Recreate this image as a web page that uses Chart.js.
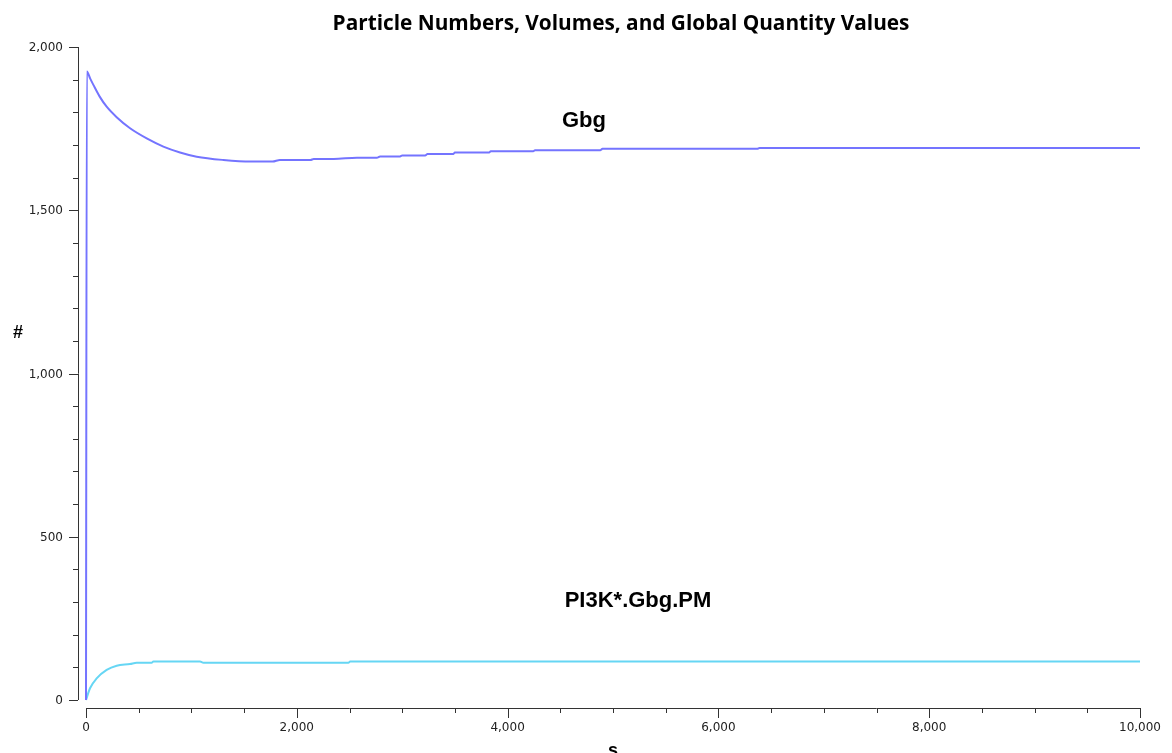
<!DOCTYPE html>
<html lang="en">
<head>
  <meta charset="UTF-8">
  <title>Particle Numbers, Volumes, and Global Quantity Values</title>
  <script src="https://cdn.jsdelivr.net/npm/chart.js"></script>
  <style>
    body { margin: 0; background: #fff; }
    canvas { display: block; }
  </style>
</head>
<body>
  <canvas id="chart" width="1172" height="753"></canvas>

  <script>
    // values (time in s, count in #)
    const gbgTime = [0, 8, 40, 70, 130, 196, 291, 418, 576, 734, 892, 1050, 1303, 1560, 1770, 1840, 2130, 2160, 2350, 2570, 2760, 2790, 2980, 3000, 3218, 3240, 3484, 3500, 3825, 3840, 4243, 4260, 4879, 4900, 6369, 6390, 10000];
    const gbgCount = [0, 1925, 1903, 1884, 1848, 1817, 1785, 1751, 1720, 1695, 1677, 1664, 1654, 1649, 1649, 1654, 1654, 1657, 1657, 1661, 1661, 1665, 1665, 1668, 1668, 1672, 1672, 1677, 1677, 1681, 1681, 1684, 1684, 1688, 1688, 1691, 1691];

    const pi3kTime = [0, 38, 101, 196, 291, 418, 481, 623, 639, 1082, 1114, 2490, 2506, 10000];
    const pi3kCount = [0, 36, 66, 92, 105, 110, 114, 114, 118, 118, 114, 114, 118, 118];

    const xTicks = [0, 2000, 4000, 6000, 8000, 10000];
    const yTicks = [0, 500, 1000, 1500, 2000];

    const toPoints = (xs, ys) => xs.map((x, i) => ({ x, y: ys[i] }));
    const fmt = v => v.toLocaleString('en-US');

    // axes are drawn detached from the plot area, like the original
    const axesPlugin = {
      id: 'detachedAxes',
      afterDraw(chart) {
        const ctx = chart.ctx;
        const xs = chart.scales.x, ys = chart.scales.y;
        const axisX = xs.left - 8;
        const axisY = ys.bottom + 8;
        ctx.save();
        ctx.strokeStyle = '#333';
        ctx.lineWidth = 1;
        ctx.beginPath();
        ctx.moveTo(axisX + 0.5, ys.top);
        ctx.lineTo(axisX + 0.5, ys.bottom);
        ctx.moveTo(xs.left, axisY + 0.5);
        ctx.lineTo(xs.right, axisY + 0.5);
        for (let v = 0; v <= 2000; v += 100) {
          const p = Math.round(ys.getPixelForValue(v)) + 0.5;
          const len = v % 500 === 0 ? 9 : 5;
          ctx.moveTo(axisX - len, p);
          ctx.lineTo(axisX, p);
        }
        for (let v = 0; v <= 10000; v += 500) {
          const p = Math.round(xs.getPixelForValue(v)) + 0.5;
          const len = v % 2000 === 0 ? 10 : 5;
          ctx.moveTo(p, axisY);
          ctx.lineTo(p, axisY + len);
        }
        ctx.stroke();

        ctx.fillStyle = '#222';
        ctx.font = '12px "DejaVu Sans"';
        ctx.textBaseline = 'middle';
        ctx.textAlign = 'right';
        yTicks.forEach(v => ctx.fillText(fmt(v), axisX - 15, ys.getPixelForValue(v) + 1));
        ctx.textAlign = 'center';
        xTicks.forEach(v => ctx.fillText(fmt(v), xs.getPixelForValue(v), axisY + 20));

        ctx.fillStyle = '#000';
        ctx.font = 'bold 20.8px "Open Sans"';
        ctx.textBaseline = 'alphabetic';
        ctx.fillText('Particle Numbers, Volumes, and Global Quantity Values', 621, 30);

        ctx.font = 'bold 18px "Liberation Sans"';
        ctx.fillText('#', 18, 338);
        ctx.fillText('s', 613, 756);

        ctx.font = 'bold 22px "Liberation Sans"';
        ctx.fillText('Gbg', 584, 127);
        ctx.fillText('PI3K*.Gbg.PM', 638, 607);
        ctx.restore();
      }
    };

    new Chart(document.getElementById('chart'), {
      type: 'line',
      data: {
        datasets: [
          {
            label: 'Gbg',
            data: toPoints(gbgTime, gbgCount),
            borderColor: '#7474ff',
            borderWidth: 2,
            pointRadius: 0,
            clip: 4,
            cubicInterpolationMode: 'monotone'
          },
          {
            label: 'PI3K*.Gbg.PM',
            data: toPoints(pi3kTime, pi3kCount),
            borderColor: '#66d6f4',
            borderWidth: 2,
            pointRadius: 0,
            clip: 4,
            cubicInterpolationMode: 'monotone'
          }
        ]
      },
      options: {
        responsive: false,
        animation: false,
        layout: { padding: { left: 86, right: 32, top: 47, bottom: 53 } },
        plugins: {
          legend: { display: false },
          title: { display: false },
          tooltip: { enabled: false }
        },
        scales: {
          x: { type: 'linear', min: 0, max: 10000, display: false },
          y: { min: 0, max: 2000, display: false }
        }
      },
      plugins: [axesPlugin]
    });
  </script>
</body>
</html>
